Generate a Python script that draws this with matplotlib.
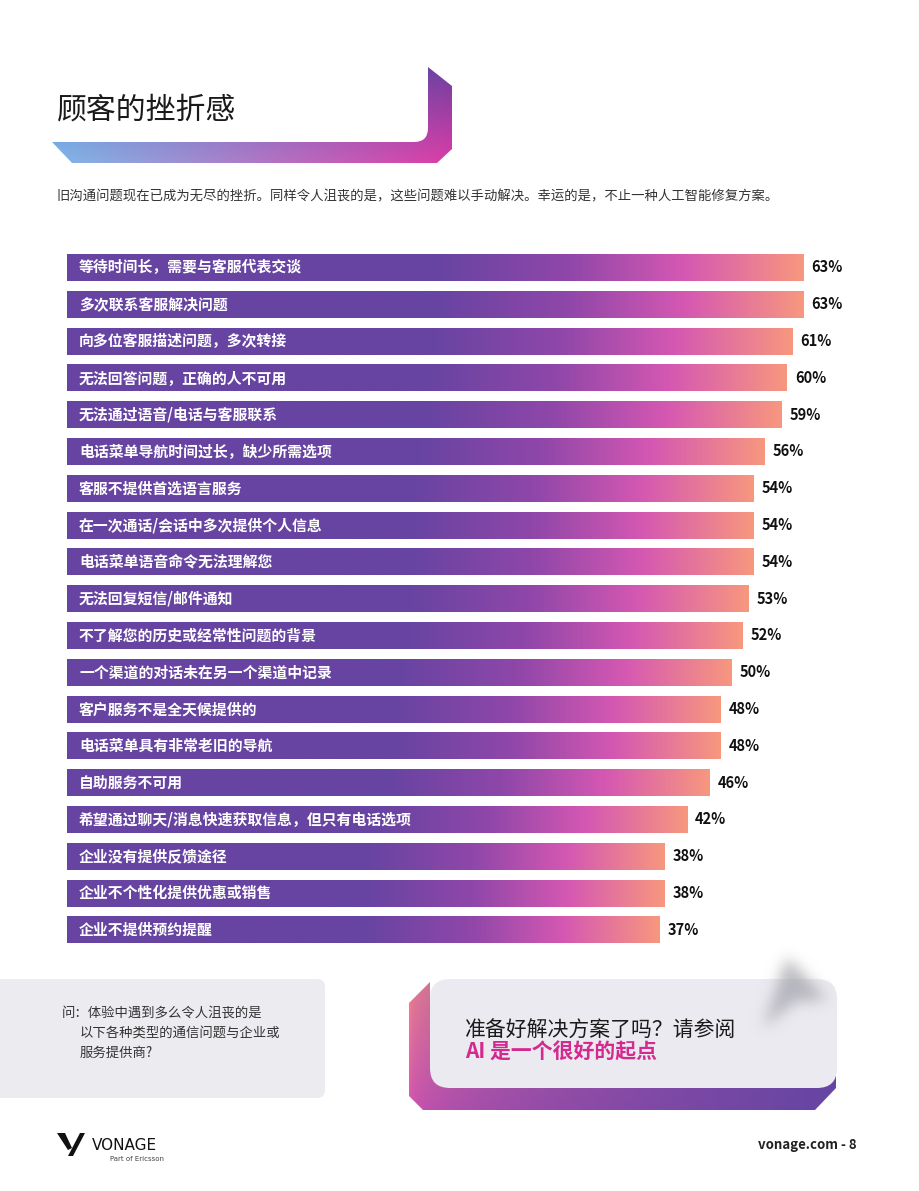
import numpy as np
import matplotlib
matplotlib.use("Agg")
import matplotlib.pyplot as plt
from matplotlib.colors import LinearSegmentedColormap, to_rgb
from matplotlib.patches import Polygon, FancyBboxPatch
from matplotlib.path import Path

plt.rcParams['font.family'] = ['Noto Sans CJK SC', 'DejaVu Sans']

# chart data
labels = [
    "等待时间长，需要与客服代表交谈",
    "多次联系客服解决问题",
    "向多位客服描述问题，多次转接",
    "无法回答问题，正确的人不可用",
    "无法通过语音/电话与客服联系",
    "电话菜单导航时间过长，缺少所需选项",
    "客服不提供首选语言服务",
    "在一次通话/会话中多次提供个人信息",
    "电话菜单语音命令无法理解您",
    "无法回复短信/邮件通知",
    "不了解您的历史或经常性问题的背景",
    "一个渠道的对话未在另一个渠道中记录",
    "客户服务不是全天候提供的",
    "电话菜单具有非常老旧的导航",
    "自助服务不可用",
    "希望通过聊天/消息快速获取信息，但只有电话选项",
    "企业没有提供反馈途径",
    "企业不个性化提供优惠或销售",
    "企业不提供预约提醒",
]
values = [63, 63, 61, 60, 59, 56, 54, 54, 54, 53, 52, 50, 48, 48, 46, 42, 38, 38, 37]

title = "顾客的挫折感"
subtitle = ("旧沟通问题现在已成为无尽的挫折。同样令人沮丧的是，这些问题难以手动解决。"
            "幸运的是，不止一种人工智能修复方案。")
question = ["问：体验中遇到多么令人沮丧的是", "以下各种类型的通信问题与企业或", "服务提供商?"]
cta_line1 = "准备好解决方案了吗？请参阅"
cta_line2 = "AI 是一个很好的起点"

W, H = 920, 1191
fig = plt.figure(figsize=(W / 100, H / 100), dpi=100)
fig.patch.set_facecolor("white")

# page layer in pixel coordinates
bg = fig.add_axes([0, 0, 1, 1])
bg.set_xlim(0, W)
bg.set_ylim(H, 0)
bg.axis("off")


def bilinear(tl, tr, bl, br, nx=200, ny=100, px=1.0):
    tl, tr, bl, br = [np.array(to_rgb(c)) for c in (tl, tr, bl, br)]
    xs = np.linspace(0, 1, nx) ** px
    ys = np.linspace(0, 1, ny)
    X, Y = np.meshgrid(xs, ys)
    X = X[..., None]
    Y = Y[..., None]
    top = tl * (1 - X) + tr * X
    bot = bl * (1 - X) + br * X
    return top * (1 - Y) + bot * Y


def grad_poly(ax, pts, img, extent, z=1):
    poly = Polygon(pts, closed=True, facecolor="none", edgecolor="none", zorder=z)
    ax.add_patch(poly)
    im = ax.imshow(img, extent=extent, origin="upper", aspect="auto", zorder=z,
                   interpolation="bilinear")
    im.set_clip_path(poly)


# title box with gradient shadow
img = bilinear("#5a7fd0", "#6e3fa0", "#80b8e8", "#dc3ca6")
grad_poly(bg, [(52, 142), (72, 163), (437, 163), (452, 149), (452, 86), (428, 67),
               (400, 67), (400, 142)], img, [52, 452, 163, 67])
bg.add_patch(FancyBboxPatch((0, 40), 428, 102, boxstyle="round,pad=0,rounding_size=14",
                            facecolor="white", edgecolor="none", zorder=2))
bg.text(57, 110, title, fontsize=21.5, color="#1a1a1a", va="center", ha="left",
        fontweight="light", zorder=3)
bg.text(57, 196, subtitle, fontsize=9.6, color="#333333", va="center", ha="left")

# question box
bg.add_patch(FancyBboxPatch((-20, 979), 345, 119, boxstyle="round,pad=0,rounding_size=8",
                            facecolor="#ebebf0", edgecolor="none", zorder=1))
bg.text(62, 1013, question[0], fontsize=9.6, color="#333333", va="center")
bg.text(80, 1033, question[1], fontsize=9.6, color="#333333", va="center")
bg.text(80, 1053, question[2], fontsize=9.6, color="#333333", va="center")

# call to action box
img2 = bilinear("#f5838e", "#6845a3", "#d955b0", "#6645a3", px=0.45)
grad_poly(bg, [(430, 982), (409, 1003), (409, 1096), (423, 1110), (815, 1110),
               (836, 1088), (836, 1000), (430, 1000)], img2, [409, 836, 1110, 982])
bg.add_patch(FancyBboxPatch((430, 979), 407, 109, boxstyle="round,pad=0,rounding_size=20",
                            facecolor="#ebeaf0", edgecolor="none", zorder=2))

# blurred cursor shadow
gx0, gx1, gy0, gy1 = 730, 860, 930, 1060
xs, ys = np.meshgrid(np.arange(gx0, gx1) + 0.5, np.arange(gy0, gy1) + 0.5)
cursor = Path([(787, 957), (763, 1028), (796, 1001), (828, 1000)])
mask = cursor.contains_points(np.c_[xs.ravel(), ys.ravel()]).reshape(xs.shape).astype(float)
k = np.exp(-0.5 * (np.arange(-21, 22) / 7.0) ** 2)
k /= k.sum()
mask = np.apply_along_axis(lambda r: np.convolve(r, k, mode="same"), 1, mask)
mask = np.apply_along_axis(lambda c: np.convolve(c, k, mode="same"), 0, mask)
shadow = np.zeros(mask.shape + (4,))
shadow[..., :3] = to_rgb("#a4a4ac")
shadow[..., 3] = np.clip(mask * 0.75, 0, 1)
bg.imshow(shadow, extent=[gx0, gx1, gy1, gy0], origin="upper", aspect="auto", zorder=3,
          interpolation="bilinear")

bg.text(465, 1031, cta_line1, fontsize=15, color="#1a1a1a", va="center", zorder=4)
bg.text(465, 1052, cta_line2, fontsize=15, color="#d42a8f", va="center",
        fontweight="bold", zorder=4)

# footer
bg.add_patch(Polygon([(57, 1133), (65, 1133), (72, 1148), (68, 1150)], closed=True,
                     facecolor="#111111", edgecolor="none"))
bg.add_patch(Polygon([(80, 1133), (85, 1133), (73, 1156), (68, 1156)], closed=True,
                     facecolor="#111111", edgecolor="none"))
bg.text(92, 1145, "VONAGE", fontsize=11, color="#111111", va="center",
        family="DejaVu Sans")
bg.text(110, 1159, "Part of Ericsson", fontsize=5, color="#444444", va="center",
        family="DejaVu Sans")
bg.text(857, 1145, "vonage.com - 8", fontsize=9.5, color="#222222", va="center",
        ha="right", fontweight="bold")

# bar chart
PX_PER_UNIT = 5.55
ZERO_PX = 454
x_left, x_right, y_top, y_bot = 67, 880, 250, 948
ax = fig.add_axes([x_left / W, 1 - y_bot / H, (x_right - x_left) / W, (y_bot - y_top) / H])
base = (x_left - ZERO_PX) / PX_PER_UNIT
xmax = (x_right - ZERO_PX) / PX_PER_UNIT
step = 36.8
ylim_top = -(267.5 - y_top) / step
ylim_bot = (y_bot - 267.5) / step
ax.axis("off")

cmap = LinearSegmentedColormap.from_list("bar", [
    (0.0, "#6744a2"), (0.5, "#6744a2"), (0.68, "#8f47a9"),
    (0.84, "#d558b2"), (1.0, "#f7977f")])
grad = np.linspace(0, 1, 256)[None, :]

pos = np.arange(len(values))
bars = ax.barh(pos, [v - base for v in values], left=base, height=0.734,
               color="none", edgecolor="none")
for b, v, lab, y in zip(bars, values, labels, pos):
    im = ax.imshow(grad, cmap=cmap, aspect="auto", extent=[base, v, y + 0.367, y - 0.367],
                   interpolation="bilinear", zorder=1)
    im.set_clip_path(b)
    ax.text(base + 12 / PX_PER_UNIT, y, lab, color="white", fontsize=10.7,
            fontweight="bold", va="center", ha="left", zorder=3)
    ax.text(v + 8 / PX_PER_UNIT, y, f"{v}%", color="#111111", fontsize=10.5,
            fontweight="bold", va="center", ha="left", zorder=3)

ax.set_xlim(base, xmax)
ax.set_ylim(ylim_bot, ylim_top)

fig.savefig("out.png", dpi=100, facecolor="white")
